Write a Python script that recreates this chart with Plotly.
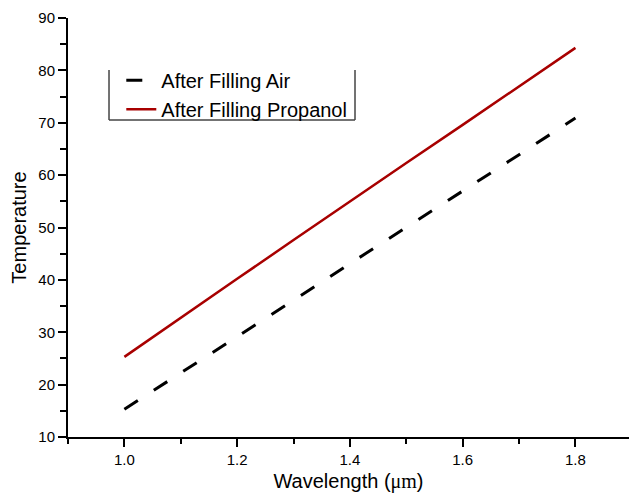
import plotly.graph_objects as go

# Wavelength (um) sample points
wavelength = [1.0, 1.1, 1.2, 1.3, 1.4, 1.5, 1.6, 1.7, 1.8]

# Temperature curves
temp_air = [15.3, 22.2, 29.2, 36.1, 43.1, 50.0, 57.0, 63.9, 70.9]
temp_propanol = [25.3, 32.8, 40.2, 47.6, 55.0, 62.3, 69.6, 76.9, 84.3]

x_ticks = [1.0, 1.2, 1.4, 1.6, 1.8]
y_ticks = [10, 20, 30, 40, 50, 60, 70, 80, 90]

FONT = "Arial, 'Liberation Sans', sans-serif"

fig = go.Figure()
fig.add_trace(go.Scatter(
    x=wavelength, y=temp_air, mode="lines", name="After Filling Air",
    line=dict(color="black", width=3, dash="16px,19px"),
))
fig.add_trace(go.Scatter(
    x=wavelength, y=temp_propanol, mode="lines", name="After Filling Propanol",
    line=dict(color="#A80000", width=2.5),
))

axis_common = dict(
    showgrid=False, zeroline=False, showline=True, linecolor="black", linewidth=2,
    ticks="outside", ticklen=8, tickwidth=2, tickcolor="black",
    tickfont=dict(family=FONT, size=15, color="black"),
    mirror=False,
)

fig.update_xaxes(
    **axis_common,
    range=[0.9, 1.895], tickvals=x_ticks, ticktext=[f"{v:.1f}" for v in x_ticks],
    minor=dict(ticks="outside", ticklen=5, tickwidth=1.5, tickcolor="black", dtick=0.1, tick0=0.9),
    title=dict(text="Wavelength (<span style=\"font-family:Liberation Serif\">μm</span>)",
               font=dict(family=FONT, size=20, color="black"), standoff=7),
)
fig.update_yaxes(
    **axis_common,
    range=[10, 90], tickvals=y_ticks,
    minor=dict(ticks="outside", ticklen=6, tickwidth=1.5, tickcolor="black", dtick=5, tick0=10),
    title=dict(text="Temperature", font=dict(family=FONT, size=20, color="#000000"), standoff=6),
)

# Legend frame: left, bottom and right sides only
frame = dict(type="line", xref="paper", yref="paper", line=dict(color="#444444", width=1.5))
lx0, lx1, ly0, ly1 = 0.0731, 0.5116, 0.7566, 0.876
fig.add_shape(**frame, x0=lx0, x1=lx0, y0=ly0, y1=ly1)
fig.add_shape(**frame, x0=lx0, x1=lx1, y0=ly0, y1=ly0)
fig.add_shape(**frame, x0=lx1, x1=lx1, y0=ly0, y1=ly1)

fig.update_layout(
    width=629, height=498,
    margin=dict(l=68, r=0, t=18, b=61),
    paper_bgcolor="white", plot_bgcolor="white",
    font=dict(family=FONT, color="black"),
    legend=dict(
        x=0.095, y=0.898, xanchor="left", yanchor="top",
        bgcolor="rgba(0,0,0,0)", borderwidth=0,
        font=dict(family=FONT, size=20, color="black"),
        tracegroupgap=0, itemwidth=30,
    ),
)

fig.write_html("out.html")
